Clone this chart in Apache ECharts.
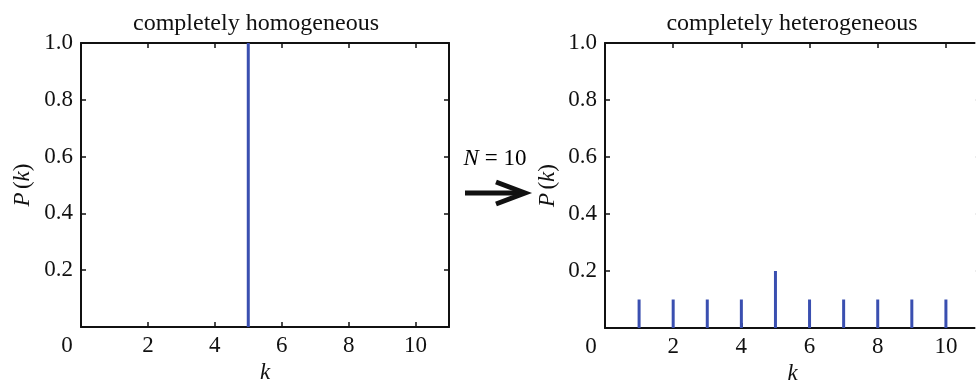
<!DOCTYPE html>
<html>
<head>
<meta charset="utf-8">
<script src="https://cdn.jsdelivr.net/npm/echarts@6/dist/echarts.min.js"></script>
<style>
  html, body { margin: 0; padding: 0; background: #fff; }
  #chart { width: 976px; height: 383px; }
</style>
</head>
<body>
<div id="chart"></div>
<script>
// degree values k and the two distributions P(k)
const kValues = [1, 2, 3, 4, 5, 6, 7, 8, 9, 10];
const homogeneousP = [0, 0, 0, 0, 1.0, 0, 0, 0, 0, 0];
const heterogeneousP = [0.1, 0.1, 0.1, 0.1, 0.2, 0.1, 0.1, 0.1, 0.1, 0.1];
const panelTitles = ['completely homogeneous', 'completely heterogeneous'];

const chart = echarts.init(document.getElementById('chart'));

const FONT = '"Liberation Serif", "DejaVu Serif", serif';
const INK = '#111';
const STEM = '#3a4fb0';
const FS = 23;

const italicRich = {
  i: { fontFamily: FONT, fontStyle: 'italic', fontSize: FS, color: INK },
  r: { fontFamily: FONT, fontSize: FS, color: INK }
};

function bottomX(gridIndex) {
  return {
    type: 'value',
    gridIndex: gridIndex,
    min: 0,
    max: 11,
    interval: 2,
    name: '{i|k}',
    nameLocation: 'middle',
    nameGap: 30,
    nameTextStyle: { rich: italicRich },
    axisLine: { onZero: false, lineStyle: { color: INK, width: 2 } },
    axisTick: { inside: true, length: 5, lineStyle: { color: INK, width: 1.5 } },
    axisLabel: {
      margin: 7,
      showMaxLabel: false,
      fontFamily: FONT,
      fontSize: FS,
      color: INK,
      formatter: (v) => (v === 0 ? '{z|0}' : String(v)),
      rich: { z: { fontFamily: FONT, fontSize: FS, color: INK, padding: [0, 28, 0, 0] } }
    },
    splitLine: { show: false }
  };
}

function topX(gridIndex) {
  return {
    type: 'value',
    gridIndex: gridIndex,
    position: 'top',
    min: 0,
    max: 11,
    interval: 2,
    axisLine: { onZero: false, lineStyle: { color: INK, width: 2 } },
    axisTick: { inside: true, length: 5, lineStyle: { color: INK, width: 1.5 } },
    axisLabel: { show: false },
    splitLine: { show: false }
  };
}

function leftY(gridIndex, gap) {
  return {
    type: 'value',
    gridIndex: gridIndex,
    min: 0,
    max: 1,
    interval: 0.2,
    name: '{i|P} {r|(}{i|k}{r|)}',
    nameLocation: 'middle',
    nameGap: gap,
    nameTextStyle: { rich: italicRich },
    axisLine: { onZero: false, lineStyle: { color: INK, width: 2 } },
    axisTick: { inside: true, length: 5, lineStyle: { color: INK, width: 1.5 } },
    axisLabel: {
      margin: 8,
      showMinLabel: false,
      fontFamily: FONT,
      fontSize: FS,
      color: INK,
      formatter: (v) => v.toFixed(1)
    },
    splitLine: { show: false }
  };
}

function rightY(gridIndex, tickColor) {
  return {
    type: 'value',
    gridIndex: gridIndex,
    position: 'right',
    min: 0,
    max: 1,
    interval: 0.2,
    axisLine: { onZero: false, lineStyle: { color: INK, width: 2 } },
    axisTick: { inside: true, length: 5, lineStyle: { color: tickColor, width: 1.5 } },
    axisLabel: { show: false },
    splitLine: { show: false }
  };
}

function stems(values) {
  return kValues.map((k, i) => [k, values[i]]);
}

const option = {
  backgroundColor: '#fff',
  animation: false,
  grid: [
    { left: 81, top: 43, width: 368, height: 284, outerBoundsMode: 'none', containLabel: false },
    { left: 605, top: 43, width: 375, height: 285, outerBoundsMode: 'none', containLabel: false }
  ],
  xAxis: [bottomX(0), bottomX(1), topX(0), topX(1)],
  yAxis: [leftY(0, 47), leftY(1, 46), rightY(0, INK), rightY(1, '#e6e6e6')],
  series: [
    {
      type: 'bar',
      xAxisIndex: 0,
      yAxisIndex: 0,
      barWidth: 3,
      itemStyle: { color: STEM },
      data: stems(homogeneousP)
    },
    {
      type: 'bar',
      xAxisIndex: 1,
      yAxisIndex: 1,
      barWidth: 3,
      itemStyle: { color: STEM },
      data: stems(heterogeneousP)
    }
  ],
  graphic: [
    {
      type: 'text',
      x: 256,
      y: 24,
      style: {
        text: panelTitles[0],
        font: '24px ' + FONT,
        fill: INK,
        align: 'center',
        verticalAlign: 'middle'
      }
    },
    {
      type: 'text',
      x: 792,
      y: 24,
      style: {
        text: panelTitles[1],
        font: '24px ' + FONT,
        fill: INK,
        align: 'center',
        verticalAlign: 'middle'
      }
    },
    {
      type: 'text',
      x: 495,
      y: 159,
      style: {
        text: '{i|N}{r| = 10}',
        rich: italicRich,
        align: 'center',
        verticalAlign: 'middle'
      }
    },
    // arrow between the two panels
    {
      type: 'line',
      shape: { x1: 465, y1: 193, x2: 522, y2: 193 },
      style: { stroke: INK, lineWidth: 5 }
    },
    {
      type: 'polyline',
      shape: { points: [[496, 182], [525, 193], [496, 204]] },
      style: { stroke: INK, lineWidth: 5, fill: null, lineJoin: 'miter' }
    }
  ]
};

chart.setOption(option);
</script>
</body>
</html>
